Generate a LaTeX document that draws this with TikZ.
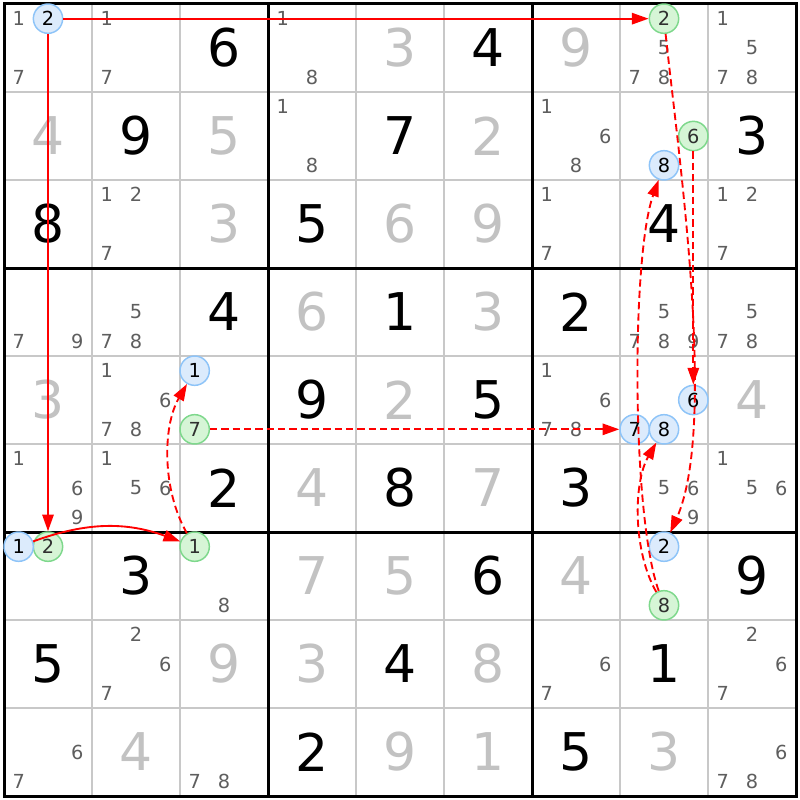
\documentclass[tikz,border=0pt]{standalone}
\usepackage{fontspec}
\setmainfont{DejaVu Sans}
\usepackage{tikz}
\usetikzlibrary{arrows.meta}
\tikzset{>={Triangle[length=12.5pt,width=8.5pt]}}
\definecolor{pencilgray}{HTML}{5E5E5E}
\definecolor{solvedgray}{HTML}{C2C2C2}
\definecolor{gridgray}{HTML}{C8C8C8}
\definecolor{bluefill}{HTML}{DCEBFC}
\definecolor{blueedge}{HTML}{8EC4F8}
\definecolor{greenfill}{HTML}{D6F5D6}
\definecolor{greenedge}{HTML}{7ED88C}
\definecolor{linkred}{HTML}{FF0000}
\definecolor{darktext}{HTML}{303030}
\tikzset{
  given/.style={font=\fontsize{39}{39}\selectfont},
  solved/.style={given, text=solvedgray},
  pencil/.style={font=\fontsize{14.5}{14.5}\selectfont, text=pencilgray},
  cand/.style={circle, inner sep=0pt, minimum size=22pt, line width=1.1pt, font=\fontsize{14.5}{14.5}\selectfont},
  bluecand/.style={cand, draw=blueedge, fill=bluefill},
  greencand/.style={cand, draw=greenedge, fill=greenfill, text=darktext},
  link/.style={->, draw=linkred, line width=1.4pt},
  weak/.style={link, dash pattern=on 5.5pt off 3pt}
}

\begin{document}
\begin{tikzpicture}[x=66pt, y=-66pt]
  \fill[white] (-0.0455,-0.0455) rectangle (9.0455,9.0455);
  \useasboundingbox (-0.0455,-0.0455) rectangle (9.0455,9.0455);
  \foreach \i in {1,2,4,5,7,8} {
    \draw[gridgray, line width=1.1pt] (\i,0) -- (\i,9);
    \draw[gridgray, line width=1.1pt] (0,\i) -- (9,\i);
  }
  \foreach \i in {3,6} {
    \draw[line width=2.25pt] (\i,0) -- (\i,9);
    \draw[line width=2.25pt] (0,\i) -- (9,\i);
  }
  \draw[line width=2.25pt] (0,0) rectangle (9,9);

  \foreach \r/\c/\d in {0/2/6, 0/5/4, 1/1/9, 1/4/7, 1/8/3, 2/0/8, 2/3/5, 2/7/4,
      3/2/4, 3/4/1, 3/6/2, 4/3/9, 4/5/5, 5/2/2, 5/4/8, 5/6/3, 6/1/3, 6/5/6,
      6/8/9, 7/0/5, 7/4/4, 7/7/1, 8/3/2, 8/6/5}
    \node[given] at (\c+.5,\r+.5) {\d};
  \foreach \r/\c/\d in {0/4/3, 0/6/9, 1/0/4, 1/2/5, 1/5/2, 2/2/3, 2/4/6, 2/5/9,
      3/3/6, 3/5/3, 4/0/3, 4/4/2, 4/8/4, 5/3/4, 5/5/7, 6/3/7, 6/4/5, 6/6/4,
      7/2/9, 7/3/3, 7/5/8, 8/1/4, 8/4/9, 8/5/1, 8/7/3}
    \node[solved] at (\c+.5,\r+.5) {\d};

  \foreach \r/\c/\ds in {0/0/{1,7}, 0/1/{1,7}, 0/3/{1,8}, 0/7/{5,7,8}, 0/8/{1,5,7,8},
      1/3/{1,8}, 1/6/{1,6,8}, 2/1/{1,2,7}, 2/6/{1,7}, 2/8/{1,2,7},
      3/0/{7,9}, 3/1/{5,7,8}, 3/7/{5,7,8,9}, 3/8/{5,7,8},
      4/1/{1,6,7,8}, 4/6/{1,6,7,8}, 5/0/{1,6,9}, 5/1/{1,5,6}, 5/7/{5,6,9}, 5/8/{1,5,6},
      6/2/{8}, 7/1/{2,6,7}, 7/6/{6,7}, 7/8/{2,6,7}, 8/0/{6,7}, 8/2/{7,8}, 8/8/{6,7,8}}
    \foreach \d in \ds
      \node[pencil] at ({\c+(mod(\d-1,3)+.5)/3},{\r+(int((\d-1)/3)+.5)/3}) {\d};

  \foreach \nm/\r/\c/\d/\sty in {r0c0d2/0/0/2/bluecand, r0c7d2/0/7/2/greencand,
      r6c0d2/6/0/2/greencand, r6c0d1/6/0/1/bluecand, r6c2d1/6/2/1/greencand,
      r4c2d1/4/2/1/bluecand, r4c2d7/4/2/7/greencand, r4c7d7/4/7/7/bluecand,
      r1c7d6/1/7/6/greencand, r4c7d6/4/7/6/bluecand, r6c7d2/6/7/2/bluecand,
      r6c7d8/6/7/8/greencand, r4c7d8/4/7/8/bluecand, r1c7d8/1/7/8/bluecand}
    \node[\sty] (\nm) at ({\c+(mod(\d-1,3)+.5)/3},{\r+(int((\d-1)/3)+.5)/3}) {\d};

  \draw[link] (r0c0d2) -- (r0c7d2);
  \draw[link] (r0c0d2) -- (r6c0d2);
  \draw[link] (r6c0d1) to[bend left=20] (r6c2d1);
  \draw[weak] (r6c2d1) to[out=120, in=-120, looseness=0.85] (r4c2d1);
  \draw[weak] (r4c2d7) -- (r4c7d7);
  \draw[weak] (r0c7d2) to[out=-84, in=66, looseness=0.6] (r6c7d2);
  \draw[weak] (r1c7d6) -- (r4c7d6);
  \draw[weak] (r6c7d8) to[out=120, in=-120, looseness=0.8] (r4c7d8);
  \draw[weak] (r6c7d8) to[out=110, in=-110, looseness=0.5] (r1c7d8);
\end{tikzpicture}
\end{document}
